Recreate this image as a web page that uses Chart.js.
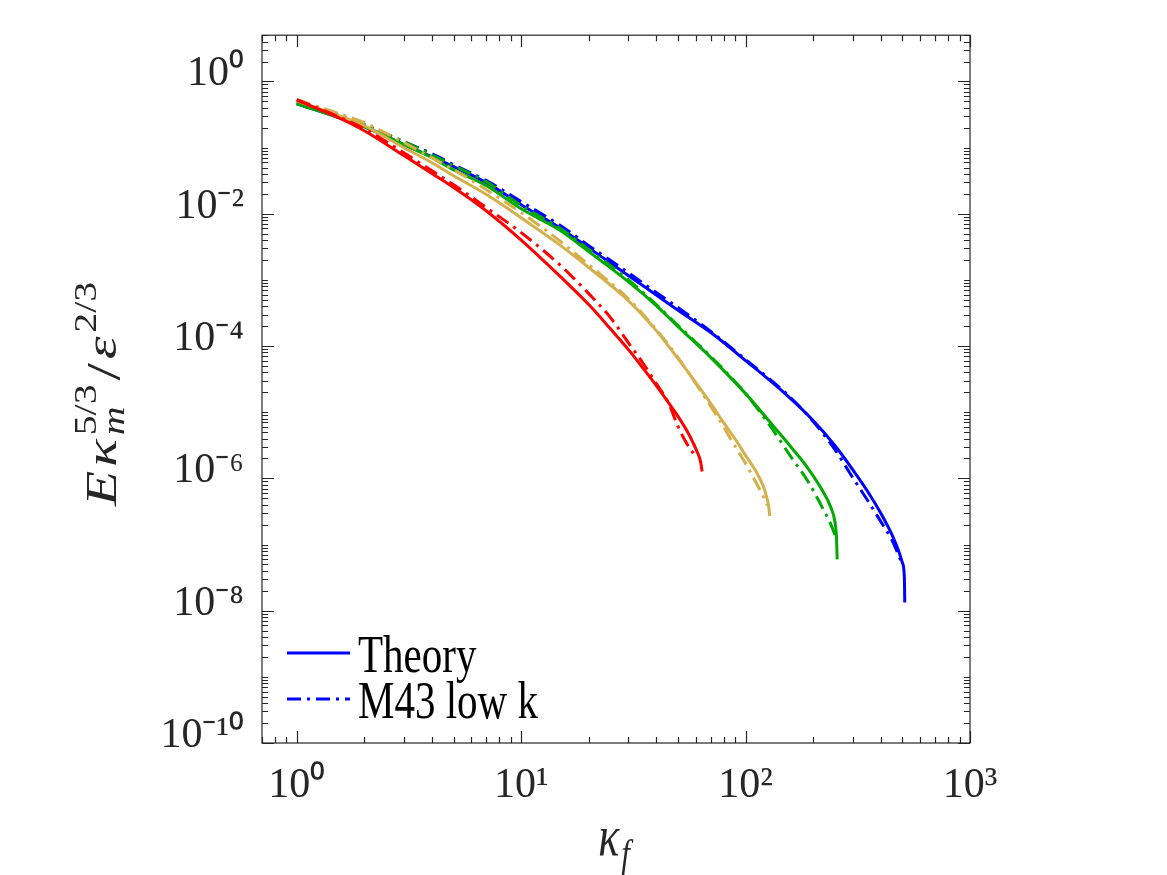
<!DOCTYPE html>
<html>
<head>
<meta charset="utf-8">
<script src="https://cdn.jsdelivr.net/npm/chart.js@4.4.1/dist/chart.umd.min.js"></script>
<style>
  html, body { margin: 0; padding: 0; background: #fff; }
  canvas { display: block; }
</style>
</head>
<body>
<canvas id="specChart" width="1167" height="875"></canvas>
<script>
/* Compensated spectra E*kappa_m^(5/3)/eps^(2/3) vs kappa_f, four cutoffs */

/* cutoff 64 (red) */
const redTheoryK = [1, 1.5, 2, 3, 4, 5, 7, 10, 15, 20, 25, 30, 35, 40, 45, 50, 55, 58, 61, 63, 64];
const redTheoryE = [0.52, 0.293, 0.18, 0.0757, 0.0406, 0.0249, 0.011, 4.0e-3, 1.11e-3, 4.24e-4, 1.82e-4, 8.9e-5, 4.57e-5, 2.53e-5, 1.45e-5, 8.65e-6, 5.1e-6, 3.6e-6, 2.46e-6, 1.8e-6, 1.27e-6];
const redM43K = [1, 1.5, 2, 3, 4, 5, 7, 10, 15, 20, 25, 30, 35, 40, 45, 50, 55, 59];
const redM43E = [0.53, 0.303, 0.193, 0.0838, 0.0447, 0.0275, 0.01236, 5.19e-3, 1.64e-3, 6.2e-4, 2.69e-4, 1.13e-4, 5.45e-5, 2.71e-5, 1.45e-5, 6.1e-6, 3.25e-6, 2.3e-6];

/* cutoff 128 (gold) */
const goldTheoryK = [1, 1.5, 2, 3, 4, 5, 7, 10, 15, 20, 30, 40, 50, 60, 70, 80, 90, 100, 110, 120, 125, 127, 128];
const goldTheoryE = [0.51, 0.314, 0.214, 0.1, 0.059, 0.0376, 0.0195, 8.7e-3, 3.3e-3, 1.54e-3, 4.87e-4, 1.71e-4, 6.46e-5, 2.8e-5, 1.35e-5, 6.9e-6, 3.9e-6, 2.22e-6, 1.36e-6, 7.6e-7, 4.8e-7, 3.6e-7, 2.7e-7];
const goldM43K = [1, 1.5, 2, 3, 4, 5, 7, 10, 15, 20, 30, 40, 50, 60, 70, 80, 90, 100, 110, 120, 125];
const goldM43E = [0.53, 0.337, 0.238, 0.119, 0.0704, 0.0463, 0.0231, 0.0104, 3.8e-3, 1.7e-3, 5.2e-4, 1.78e-4, 6.7e-5, 2.71e-5, 1.22e-5, 5.9e-6, 3.0e-6, 1.68e-6, 9.3e-7, 5.3e-7, 3.9e-7];

/* cutoff 256 (green) */
const greenTheoryK = [1, 1.5, 2, 3, 4, 5, 7, 10, 15, 20, 30, 40, 50, 70, 100, 130, 160, 190, 220, 240, 250, 254, 256];
const greenTheoryE = [0.46, 0.293, 0.207, 0.111, 0.0704, 0.046, 0.0265, 0.0119, 5.55e-3, 2.68e-3, 9.4e-4, 4.09e-4, 1.97e-4, 6.7e-5, 1.91e-5, 6.75e-6, 2.93e-6, 1.41e-6, 6.56e-7, 3.63e-7, 2.23e-7, 1.32e-7, 5.96e-8];
const greenM43K = [1, 1.5, 2, 3, 4, 5, 7, 10, 15, 20, 30, 40, 50, 70, 100, 130, 160, 190, 220, 240, 252];
const greenM43E = [0.477, 0.314, 0.222, 0.123, 0.078, 0.0533, 0.0305, 0.01325, 5.95e-3, 2.88e-3, 1.01e-3, 4.24e-4, 2.04e-4, 6.94e-5, 1.91e-5, 5.88e-6, 2.07e-6, 8.9e-7, 3.6e-7, 2.0e-7, 1.32e-7];

/* cutoff 512 (blue) */
const blueTheoryK = [1, 1.5, 2, 3, 4, 5, 7, 10, 15, 20, 30, 40, 50, 70, 100, 150, 200, 250, 300, 350, 400, 450, 480, 500, 510, 512];
const blueTheoryE = [0.46, 0.293, 0.207, 0.111, 0.0728, 0.0514, 0.0295, 0.0137, 6.0e-3, 3.05e-3, 1.17e-3, 5.9e-4, 3.48e-4, 1.6e-4, 6.04e-5, 1.91e-5, 7.5e-6, 3.14e-6, 1.36e-6, 6.34e-7, 3.0e-7, 1.39e-7, 8.1e-8, 5.27e-8, 3.18e-8, 1.33e-8];
const blueM43K = [1, 1.5, 2, 3, 4, 5, 7, 10, 15, 20, 30, 40, 50, 70, 100, 150, 200, 250, 300, 350, 400, 450, 490, 505];
const blueM43E = [0.477, 0.314, 0.222, 0.123, 0.0809, 0.0552, 0.0316, 0.01524, 6.6e-3, 3.3e-3, 1.29e-3, 6.45e-4, 3.82e-4, 1.66e-4, 6.25e-5, 1.99e-5, 7.24e-6, 2.73e-6, 1.03e-6, 4.63e-7, 2.24e-7, 1.15e-7, 5.9e-8, 4.68e-8];

const xTickValues = [1, 10, 100, 1000];
const yTickValues = [1, 1e-2, 1e-4, 1e-6, 1e-8, 1e-10];
const legendLabels = ['Theory', 'M43 low k'];

const inkColor = '#262626';
const serif = '"Liberation Serif", "Times New Roman", serif';
const dashDot = [14, 6, 3, 6];
const colors = { red: '#ff0000', gold: '#d4b04c', green: '#00aa00', blue: '#0000ff' };

const pts = (ks, es) => ks.map((k, i) => ({ x: k, y: es[i] }));
const sup = { '0': '⁰', '1': '¹', '2': '²', '3': '³', '4': '⁴', '5': '⁵', '6': '⁶', '7': '⁷', '8': '⁸', '9': '⁹', '-': '⁻' };
const powLabel = v => '10' + String(Math.round(Math.log10(v))).split('').map(c => sup[c]).join('');

function line(label, data, color, dashed) {
    return {
        label: label,
        data: data,
        borderColor: color,
        backgroundColor: color,
        borderWidth: 3,
        borderDash: dashed ? dashDot : [],
        pointRadius: 0,
        fill: false,
        cubicInterpolationMode: 'monotone',
    };
}

/* minor tick positions for the mirrored tick marks */
function minorTicks(lo, hi) {
    const out = [];
    for (let e = Math.floor(Math.log10(lo)); e <= Math.ceil(Math.log10(hi)); e++) {
        for (let m = 1; m <= 9; m++) {
            const v = m * Math.pow(10, e);
            if (v >= lo * 0.999 && v <= hi * 1.001) out.push(v);
        }
    }
    return out;
}

function pieceWidth(ctx, p) {
    ctx.font = (p.it ? 'italic ' : '') + p.size + 'px ' + serif;
    return ctx.measureText(p.t).width;
}

const decor = {
    id: 'decor',
    afterDraw(chart) {
        const { ctx, chartArea: a, scales: { x, y } } = chart;
        ctx.save();
        ctx.strokeStyle = inkColor;
        ctx.lineWidth = 1.2;

        // box
        ctx.strokeRect(a.left, a.top, a.right - a.left, a.bottom - a.top);

        // inward ticks on all four sides
        ctx.beginPath();
        minorTicks(0.7, 1000).forEach(v => {
            const px = Math.round(x.getPixelForValue(v)) + 0.5;
            const len = xTickValues.includes(v) ? 12 : 6;
            ctx.moveTo(px, a.bottom); ctx.lineTo(px, a.bottom - len);
            ctx.moveTo(px, a.top); ctx.lineTo(px, a.top + len);
        });
        minorTicks(1e-10, 5).forEach(v => {
            const py = Math.round(y.getPixelForValue(v)) + 0.5;
            const major = yTickValues.some(t => Math.abs(t / v - 1) < 1e-6);
            const len = major ? 12 : 6;
            ctx.moveTo(a.left, py); ctx.lineTo(a.left + len, py);
            ctx.moveTo(a.right, py); ctx.lineTo(a.right - len, py);
        });
        ctx.stroke();

        ctx.fillStyle = inkColor;
        ctx.textBaseline = 'alphabetic';
        ctx.textAlign = 'left';

        // x title: kappa_f
        const xt = [
            { t: 'κ', size: 44, it: true, dy: 0 },
            { t: 'f', size: 31, it: true, dy: 9 },
        ];
        const wx = xt.reduce((s, p) => s + pieceWidth(ctx, p), 0) + 2;
        ctx.save();
        ctx.translate(614 - wx / 2, 855);
        ctx.scale(1, 1.3);
        let cx = 0;
        xt.forEach(p => {
            const w = pieceWidth(ctx, p);
            ctx.fillText(p.t, cx, p.dy);
            cx += w + 2;
        });
        ctx.restore();

        // y title: E kappa_m^{5/3} / eps^{2/3}
        const main = 45, small = 31;
        const groups = [
            [{ t: 'E', size: main, it: true, dy: 0 }],
            [{ t: 'κ', size: main, it: true, dy: 0 }],
            [{ t: 'm', size: small, it: true, dy: 8 }, { t: '5/3', size: small, it: false, dy: -20 }],
            [{ t: '/', size: main + 4, it: false, dy: 4 }],
            [{ t: 'ε', size: main, it: true, dy: 0 }],
            [{ t: '2/3', size: small, it: false, dy: -20 }],
        ];
        const gw = groups.map(g => Math.max(...g.map(p => pieceWidth(ctx, p))) + 3);
        const total = gw.reduce((s, w) => s + w, 0);
        const stretch = 228 / total;
        ctx.save();
        ctx.translate(116, 392);
        ctx.rotate(-Math.PI / 2);
        ctx.scale(stretch, 1);
        let gx = -total / 2;
        groups.forEach((g, i) => {
            g.forEach(p => {
                pieceWidth(ctx, p);
                ctx.fillText(p.t, gx, p.dy);
            });
            gx += gw[i];
        });
        ctx.restore();

        // legend (blue pair), in legendLabels order
        const rows = [653, 699];
        legendLabels.forEach((name, i) => {
            const d = chart.data.datasets.find(s => s.label === name);
            ctx.save();
            ctx.strokeStyle = d.borderColor;
            ctx.lineWidth = 3;
            ctx.setLineDash(d.borderDash);
            ctx.beginPath();
            ctx.moveTo(287, rows[i]);
            ctx.lineTo(350, rows[i]);
            ctx.stroke();
            ctx.restore();
            ctx.save();
            ctx.translate(358, rows[i] + 19);
            ctx.scale(1, 1.3);
            ctx.font = '41px ' + serif;
            ctx.fillStyle = '#000';
            ctx.fillText(d.label, 0, 0);
            ctx.restore();
        });
        ctx.restore();
    }
};

new Chart(document.getElementById('specChart'), {
    type: 'line',
    data: {
        datasets: [
            line('M43 low k (64)', pts(redM43K, redM43E), colors.red, true),
            line('Theory (64)', pts(redTheoryK, redTheoryE), colors.red, false),
            line('M43 low k (128)', pts(goldM43K, goldM43E), colors.gold, true),
            line('Theory (128)', pts(goldTheoryK, goldTheoryE), colors.gold, false),
            line('M43 low k (256)', pts(greenM43K, greenM43E), colors.green, true),
            line('Theory (256)', pts(greenTheoryK, greenTheoryE), colors.green, false),
            line('M43 low k', pts(blueM43K, blueM43E), colors.blue, true),
            line('Theory', pts(blueTheoryK, blueTheoryE), colors.blue, false),
        ],
    },
    options: {
        responsive: false,
        animation: false,
        layout: { padding: { left: 0, top: 35, right: 197, bottom: 0 } },
        plugins: { legend: { display: false }, tooltip: { enabled: false } },
        scales: {
            x: {
                type: 'logarithmic',
                min: 0.7,
                max: 1000,
                grid: { display: false },
                border: { display: false },
                afterBuildTicks: s => { s.ticks = xTickValues.map(v => ({ value: v })); },
                afterFit: s => { s.height = 132; },
                ticks: {
                    color: inkColor,
                    font: { family: serif, size: 42 },
                    padding: 10,
                    maxRotation: 0,
                    callback: v => powLabel(v),
                },
            },
            y: {
                type: 'logarithmic',
                min: 1e-10,
                max: 5,
                grid: { display: false },
                border: { display: false },
                afterBuildTicks: s => { s.ticks = yTickValues.map(v => ({ value: v })); },
                afterFit: s => { s.width = 262; },
                ticks: {
                    color: inkColor,
                    font: { family: serif, size: 42 },
                    padding: 10,
                    labelOffset: -7,
                    callback: v => powLabel(v),
                },
            },
        },
    },
    plugins: [decor],
});
</script>
</body>
</html>
